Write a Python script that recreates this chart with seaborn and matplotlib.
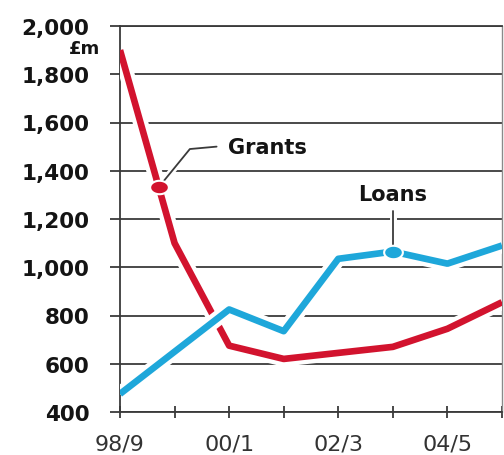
import numpy as np
import pandas as pd
import matplotlib
matplotlib.use("Agg")
import matplotlib.pyplot as plt
from matplotlib import patheffects as pe
from matplotlib.path import Path
import seaborn as sns

# Student support spending, £m, by academic year
years = ["98/9", "99/0", "00/1", "01/2", "02/3", "03/4", "04/5", "05/6"]
grants = [1900, 1100, 675, 620, 645, 670, 745, 855]
loans = [475, 650, 825, 735, 1035, 1065, 1015, 1090]
y_ticks = [400, 600, 800, 1000, 1200, 1400, 1600, 1800, 2000]
series_names = ["Grants", "Loans"]

RED = "#d2132e"
BLUE = "#1ea7da"
GRID = "#3a3a3a"

sns.set_style("white")
plt.rcParams["font.family"] = ["DejaVu Sans"]

pos = np.arange(len(years))
df = pd.DataFrame({
    "pos": np.concatenate([pos, pos]),
    "value": grants + loans,
    "series": [series_names[0]] * len(years) + [series_names[1]] * len(years),
})

fig = plt.figure(figsize=(5.04, 4.56), dpi=100)
ax = fig.add_axes([120 / 504, 1 - 413 / 456, (502 - 120) / 504, (413 - 27) / 456])

sns.lineplot(data=df, x="pos", y="value", hue="series", hue_order=series_names,
             palette={"Grants": RED, "Loans": BLUE}, linewidth=4.8,
             legend=False, ax=ax, sort=False)

halo = [pe.Stroke(linewidth=11, foreground="white"), pe.Normal()]
for z, line in zip([3, 4], ax.lines):
    line.set_zorder(z)
    line.set_solid_capstyle("butt")
    line.set_solid_joinstyle("round")
    line.set_path_effects(halo)

ax.set_xlim(0, len(years) - 1)
ax.set_ylim(y_ticks[0], y_ticks[-1])
ax.set_xlabel("")
ax.set_ylabel("")

ax.set_yticks(y_ticks)
ax.set_yticklabels([f"{v:,}" for v in y_ticks], fontsize=15.5,
                   fontweight="bold", color="#141414")
ax.set_xticks(pos)
ax.set_xticklabels([y if i % 2 == 0 else "" for i, y in enumerate(years)],
                   fontsize=16, color="#333333")

ax.yaxis.grid(True, color=GRID, linewidth=1.3)
ax.xaxis.grid(False)
ax.set_axisbelow(True)
ax.tick_params(axis="y", left=True, direction="out", length=7, width=1.3,
               color=GRID, pad=15)
ax.tick_params(axis="x", bottom=True, direction="inout", length=9, width=1.3,
               color=GRID, pad=11)

for side in ["left", "bottom", "top"]:
    ax.spines[side].set_color(GRID)
    ax.spines[side].set_linewidth(1.3)
ax.spines["right"].set_color("#8a8a8a")
ax.spines["right"].set_linewidth(1.0)

# elliptical callout dots
t = np.linspace(0, 2 * np.pi, 40)
ellipse = Path(np.column_stack([np.cos(t), 0.72 * np.sin(t)]), closed=True)

g_x = 0.71
g_y = float(np.interp(g_x, pos, grants))
l_x = 5
l_y = loans[l_x]

pointer_style = dict(color=GRID, linewidth=1.3, zorder=5,
                     path_effects=[pe.Stroke(linewidth=5, foreground="white"), pe.Normal()])

# Grants callout
ax.plot([g_x, 1.28, 1.77], [g_y, 1490, 1500], **pointer_style)
ax.text(1.97, 1500, "Grants", fontsize=15, fontweight="bold", color="#141414",
        ha="left", va="center", zorder=6)
ax.plot([g_x], [g_y], marker=ellipse, markersize=13.5, color=RED,
        markeredgecolor="white", markeredgewidth=1.5, zorder=7)

# Loans callout
ax.plot([l_x, l_x], [l_y, 1235], **pointer_style)
ax.text(l_x, 1305, "Loans", fontsize=15, fontweight="bold", color="#141414",
        ha="center", va="center", zorder=6)
ax.plot([l_x], [l_y], marker=ellipse, markersize=13.5, color=BLUE,
        markeredgecolor="white", markeredgewidth=1.5, zorder=7)

fig.text(100 / 504, 1 - 49 / 456, "£m", fontsize=13, fontweight="bold",
         color="#141414", ha="right", va="center")

fig.savefig("out.png", dpi=100)
